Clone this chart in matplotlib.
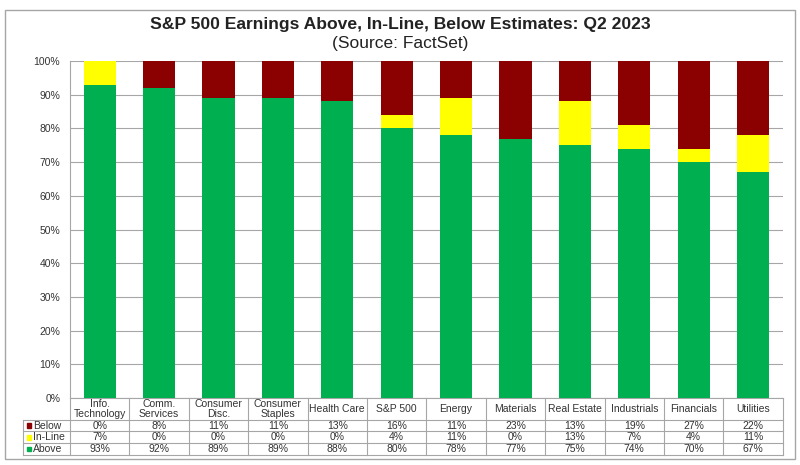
import matplotlib.pyplot as plt
import numpy as np
from matplotlib.patches import Rectangle

# dati ----------------------------------------------------------------------
settori = ["Info.\nTechnology", "Comm.\nServices", "Consumer\nDisc.", "Consumer\nStaples",
           "Health Care", "S&P 500", "Energy", "Materials", "Real Estate",
           "Industrials", "Financials", "Utilities"]
above = [93, 92, 89, 89, 88, 80, 78, 77, 75, 74, 70, 67]
inline = [7, 0, 0, 0, 0, 4, 11, 0, 13, 7, 4, 11]
below = [0, 8, 11, 11, 13, 16, 11, 23, 13, 19, 27, 22]

serie = [("Below", below, "#8B0000"), ("In-Line", inline, "#FFFF00"), ("Above", above, "#00B050")]

plt.rcParams["font.family"] = ["Liberation Sans", "DejaVu Sans"]

# grafico -------------------------------------------------------------------
fig = plt.figure(figsize=(8, 4.65), dpi=100)
ax = fig.add_axes([0.0875, 0.1441, 0.891, 0.7247])

x = np.arange(len(settori))
ab = np.array(above)
il = np.array(inline)
# le percentuali arrotondate non sempre sommano a 100: il rosso chiude a 100
ax.bar(x, ab, width=0.54, color="#00B050", zorder=3)
ax.bar(x, il, width=0.54, bottom=ab, color="#FFFF00", zorder=3)
ax.bar(x, 100 - ab - il, width=0.54, bottom=ab + il, color="#8B0000", zorder=3)

ax.set_xlim(-0.5, len(settori) - 0.5)
ax.set_ylim(0, 100)
ax.set_yticks(np.arange(0, 101, 10))
ax.set_yticklabels([f"{v}%" for v in range(0, 101, 10)], fontsize=7.5, color="#333333")
ax.set_xticks([])
ax.tick_params(axis="y", length=0, pad=7)
ax.grid(axis="y", color="#A6A6A6", linewidth=0.8, zorder=0)
for s in ["top", "right"]:
    ax.spines[s].set_visible(False)
ax.spines["left"].set_color("#A6A6A6")
ax.spines["bottom"].set_color("#A6A6A6")

# tabella dati sotto il grafico ---------------------------------------------
def ay(p):
    # pixel verticale -> coordinate asse
    return (398 - p) / 337

trans = ax.get_xaxis_transform()
lc = "#A6A6A6"
righe = [420, 431.5, 443, 455]
xl = -0.5 - 47 / 59.4  # colonna delle etichette
for p in righe:
    ax.plot([xl, len(settori) - 0.5], [ay(p)] * 2, transform=trans, color=lc, lw=0.8, clip_on=False)
for k in range(len(settori) + 1):
    ax.plot([k - 0.5] * 2, [0, ay(455)], transform=trans, color=lc, lw=0.8, clip_on=False)
ax.plot([xl] * 2, [ay(420), ay(455)], transform=trans, color=lc, lw=0.8, clip_on=False)

for i, nome in enumerate(settori):
    ax.text(i, ay(409), nome, transform=trans, ha="center", va="center",
            fontsize=7.5, color="#333333", linespacing=1.0)

for r, (nome, vals, col) in enumerate(serie):
    yc = ay((righe[r] + righe[r + 1]) / 2)
    ax.add_patch(Rectangle((xl + 0.07, yc - 0.007), 0.07, 0.014, transform=trans,
                           color=col, clip_on=False))
    ax.text(xl + 0.17, yc, nome, transform=trans, ha="left", va="center",
            fontsize=7.5, color="#333333")
    for i, v in enumerate(vals):
        ax.text(i, yc, f"{v}%", transform=trans, ha="center", va="center",
                fontsize=7.5, color="#333333")

# titolo e cornice -----------------------------------------------------------
fig.text(0.5, 1 - 25 / 465, "S&P 500 Earnings Above, In-Line, Below Estimates: Q2 2023",
         ha="center", va="center", fontsize=12.6, fontweight="bold", color="#222222")
fig.text(0.5, 1 - 43 / 465, "(Source: FactSet)", ha="center", va="center",
         fontsize=12.5, color="#222222")
fig.add_artist(Rectangle((5 / 800, 1 - 459 / 465), 790 / 800, 449 / 465,
                         transform=fig.transFigure, fill=False, edgecolor="#A6A6A6", lw=1))

fig.savefig("out.png", dpi=100)
